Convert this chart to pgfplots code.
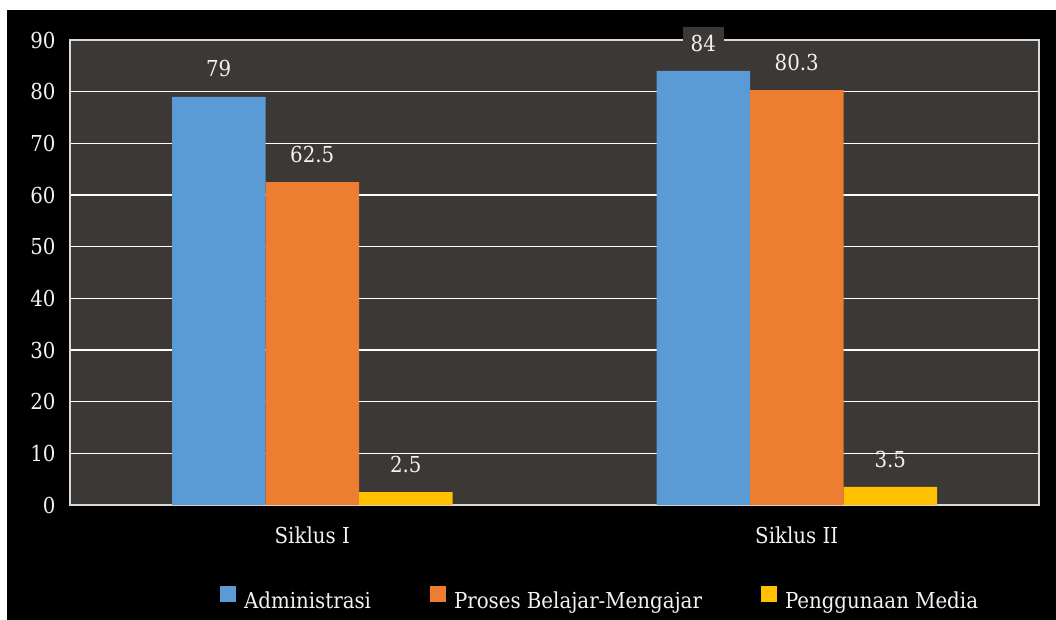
\documentclass[border=0pt]{standalone}
\usepackage{fontspec}
\setmainfont{DejaVu Serif Condensed}
\usepackage{pgfplots}
\pgfplotsset{compat=1.18}
\definecolor{plotbg}{HTML}{3B3836}
\definecolor{cblue}{HTML}{5B9BD5}
\definecolor{corange}{HTML}{ED7D31}
\definecolor{cyellow}{HTML}{FFC000}
\definecolor{txt}{HTML}{F2F2F2}
\newcommand{\fsz}{\fontsize{22bp}{26bp}\selectfont}
\begin{document}
\fsz
\begin{tikzpicture}
\fill[white] (0,0) rectangle (1056bp,620bp);
\fill[black] (7bp,0) rectangle (1056bp,610bp);
\begin{axis}[
  at={(70bp,115bp)}, anchor=south west,
  scale only axis, width=969bp, height=465bp,
  ymin=0, ymax=90, ytick distance=10,
  xmin=-0.5, xmax=1.5,
  xtick=data, xticklabels={Siklus I, Siklus II},
  ybar=0pt, bar width=93.5bp,
  axis background/.style={fill=plotbg},
  ymajorgrids, grid style={white, line width=1.5bp},
  axis line style={draw=white!85!black, line width=1.5bp},
  major tick length=0pt,
  tick label style={text=txt, font=\fsz},
  yticklabel style={xshift=-7bp},
  xticklabel style={yshift=-14bp},
  /pgf/number format/assume math mode=true,
  clip=false,
  nodes near coords={\pgfmathprintnumber[assume math mode=true]{\pgfplotspointmeta}},
  nodes near coords style={text=txt, font=\fsz, yshift=12bp},
  legend columns=3,
  legend style={at={(0.547,-0.204)}, anchor=center, draw=none, fill=none,
    text=txt, font=\fsz,
    /tikz/every odd column/.append style={column sep=6bp},
    /tikz/every even column/.append style={column sep=57bp}},
  legend image code/.code={\fill[#1] (0bp,-1bp) rectangle (16bp,15bp);},
]
\addplot[fill=cblue, draw=none, every node near coord/.append style={fill=plotbg, inner xsep=8bp}]
  coordinates {(0,79) (1,84)};
\addplot[fill=corange, draw=none] coordinates {(0,62.5) (1,80.3)};
\addplot[fill=cyellow, draw=none] coordinates {(0,2.5) (1,3.5)};
\legend{Administrasi, Proses Belajar-Mengajar, Penggunaan Media}
\end{axis}
\end{tikzpicture}
\end{document}
